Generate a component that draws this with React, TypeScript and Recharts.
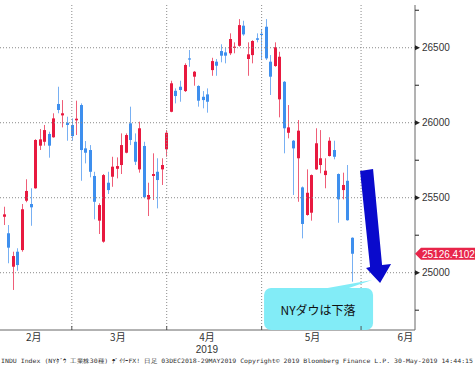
import React from 'react';
import { ComposedChart, Bar, XAxis, YAxis, ReferenceLine, ReferenceDot } from 'recharts';

// Daily OHLC, NY Dow (INDU), Feb 6 2019 - May 29 2019
const opens = [
  25373, 25263, 25040, 25140, 25151, 25480, 25458, 25563, 25847, 25873,
  25925, 25903, 26125, 26049, 26000, 25985, 26016, 26118, 25829, 25818,
  25645, 25347, 25207, 25600, 25640, 25693, 25718, 25800, 25996, 25873,
  25689, 25845, 25489, 25645, 25673, 25689, 25823, 26073, 26213, 26240,
  26211, 26429, 26307, 26245, 26173, 26189, 26351, 26407, 26478, 26469,
  26463, 26502, 26513, 26647, 26425, 26451, 26563, 26593, 26640, 26407,
  26378, 26156, 26273, 25933, 25880, 25763, 25569, 25385, 25400, 25689,
  25718, 25651, 25778, 25818, 25658, 25551, 25613, 25233,
];
const highs = [
  25440, 25318, 25140, 25163, 25458, 25623, 25563, 25890, 25958, 25985,
  25940, 26063, 26240, 26151, 26040, 26029, 26147, 26129, 25878, 25851,
  25673, 25463, 25658, 25673, 25773, 25769, 25929, 25929, 26107, 25929,
  26007, 25873, 25600, 25796, 25763, 25763, 25951, 26280, 26229, 26280,
  26396, 26485, 26345, 26250, 26211, 26229, 26433, 26425, 26523, 26500,
  26596, 26536, 26691, 26680, 26536, 26550, 26596, 26625, 26691, 26451,
  26536, 26473, 26278, 26118, 25885, 26018, 25575, 25689, 25655, 25963,
  25951, 25763, 25903, 25880, 25662, 25667, 25718, 25236,
];
const lows = [
  25318, 25063, 24885, 25013, 25140, 25470, 25313, 25560, 25818, 25847,
  25767, 25900, 26063, 25969, 25880, 25880, 25918, 25613, 25729, 25636,
  25356, 25258, 25200, 25525, 25573, 25629, 25658, 25796, 25851, 25718,
  25667, 25496, 25378, 25485, 25429, 25585, 25773, 26070, 26129, 26140,
  26205, 26373, 26247, 26107, 26096, 26067, 26313, 26313, 26403, 26396,
  26451, 26463, 26507, 26580, 26313, 26396, 26536, 26418, 26418, 26185,
  26373, 26036, 25796, 25896, 25518, 25473, 25229, 25380, 25347, 25685,
  25663, 25563, 25775, 25756, 25333, 25489, 25347, 24940,
];
const closes = [
  25389, 25167, 25111, 25051, 25423, 25545, 25436, 25885, 25889, 25951,
  25847, 26029, 26085, 26063, 25985, 25911, 26027, 25818, 25800, 25673,
  25473, 25451, 25651, 25551, 25707, 25711, 25851, 25918, 25885, 25740,
  25963, 25503, 25518, 25658, 25618, 25718, 25933, 26263, 26178, 26218,
  26385, 26423, 26340, 26147, 26151, 26140, 26411, 26380, 26447, 26447,
  26558, 26507, 26651, 26589, 26456, 26545, 26553, 26587, 26429, 26307,
  26503, 26440, 25963, 25969, 25829, 25947, 25325, 25533, 25651, 25863,
  25763, 25680, 25880, 25773, 25489, 25585, 25350, 25126.4102,
];

const yTicks = [24750, 25000, 25250, 25500, 25750, 26000, 26250, 26500, 26750];
const yGridValues = [25000, 25500, 26000, 26500];
const monthEndIndex = [15, 36, 57, 79];
const monthLabels = ['2月', '3月', '4月', '5月', '6月'];
const monthLabelIndex = [6.6, 25.2, 44.9, 68.25, 88.8];
const yearLabel = '2019';
const yearUnderMonth = 2;
const lastPrice = 25126.4102;
const lastPriceLabel = '25126.4102';
const annotationText = 'NYダウは下落';
const annotationAnchor = { x: 83.2, y: 24931 };
const footerText =
  'INDU Index (NYﾀﾞｳ 工業株30種) ﾃﾞｲﾘｰFX!   日足 03DEC2018-29MAY2019 Copyright© 2019 Bloomberg Finance L.P.  30-May-2019 14:44:15';

const RED = '#E8193F';
const BLUE = '#3E8FEE';

const data = opens.map((o, i) => ({
  i,
  o,
  h: highs[i],
  l: lows[i],
  c: closes[i],
  range: [lows[i], highs[i]],
}));

const Candle = (props: any) => {
  const { x, y, width, height, payload } = props;
  if (!payload) return null;
  const { o, h, l, c } = payload;
  const top = Math.min(y, y + height);
  const H = Math.abs(height);
  const cx = Math.round(x + width / 2);
  const py = (v: number) => top + ((h - v) / (h - l)) * H;
  const color = c >= o ? RED : BLUE;
  const bTop = py(Math.max(o, c));
  const bBot = py(Math.min(o, c));
  return (
    <g>
      <line x1={cx + 0.5} x2={cx + 0.5} y1={top} y2={top + H} stroke={color} strokeOpacity={0.7} strokeWidth={1} />
      <rect x={cx - 1} y={bTop} width={3} height={Math.max(1.2, bBot - bTop)} fill={color} />
    </g>
  );
};

const XTick = (props: any) => {
  const { x, y, payload } = props;
  const v = payload.value;
  const li = monthLabelIndex.indexOf(v);
  if (li < 0) {
    return <line x1={x} x2={x} y1={y - 4} y2={y} stroke="#555" />;
  }
  return (
    <g>
      <text x={x} y={y + 6} textAnchor="middle" dominantBaseline="central" fontSize={10} fill="#333" fontFamily="Noto Sans CJK JP">
        {monthLabels[li]}
      </text>
      {li === yearUnderMonth && (
        <text x={x} y={y + 19.5} textAnchor="middle" dominantBaseline="central" fontSize={10} fill="#333" fontFamily="Liberation Sans">
          {yearLabel}
        </text>
      )}
    </g>
  );
};

const YTick = (props: any) => {
  const { x, y, payload } = props;
  const v = payload.value;
  if (v % 500 === 0) {
    return (
      <g>
        <polygon points={`${x},${y - 2.5} ${x + 5},${y} ${x},${y + 2.5}`} fill="#222" />
        <text x={x + 7} y={y} dominantBaseline="central" fontSize={10} fill="#333" fontFamily="Liberation Sans">
          {v}
        </text>
      </g>
    );
  }
  return <line x1={x} x2={x + 4} y1={y} y2={y} stroke="#222" />;
};

const PriceTag = (props: any) => {
  const { cx, cy } = props;
  return (
    <g>
      <polygon
        points={`${cx},${cy} ${cx + 6},${cy - 6} ${cx + 60},${cy - 6} ${cx + 60},${cy + 6} ${cx + 6},${cy + 6}`}
        fill="#E8254A"
      />
      <text x={cx + 7} y={cy + 0.5} dominantBaseline="central" fontSize={10} fill="#fff" fontFamily="Liberation Sans">
        {lastPriceLabel}
      </text>
    </g>
  );
};

const Arrow = (props: any) => {
  const { cx, cy } = props;
  const pts = [
    [-20, -112],
    [-7, -114],
    [2, -18],
    [11, -19],
    [0, 0],
    [-14, -15],
    [-10, -16],
  ]
    .map(([dx, dy]) => `${cx + dx},${cy + dy}`)
    .join(' ');
  return <polygon points={pts} fill="#0A0ACC" />;
};

const Callout = (props: any) => {
  const { cx, cy } = props;
  return (
    <g>
      <rect x={cx - 116} y={cy + 5} width={109} height={42} rx={7} fill="#82ECF7" />
      <polygon points={`${cx - 58},${cy + 6} ${cx - 8},${cy - 3} ${cx - 34},${cy + 6}`} fill="#82ECF7" />
      <text x={cx - 62} y={cy + 26} textAnchor="middle" dominantBaseline="central" fontSize={12} fill="#111" fontFamily="Noto Sans CJK JP">
        {annotationText}
      </text>
    </g>
  );
};

export default function App() {
  return (
    <div style={{ position: 'absolute', left: 0, top: 0, width: 475, height: 366, background: '#fff' }}>
      <ComposedChart width={475} height={366} data={data} margin={{ top: 5, right: 0, left: 0, bottom: 0 }}>
        <XAxis
          dataKey="i"
          type="number"
          domain={[-0.885, 90.93]}
          allowDataOverflow
          ticks={[...monthEndIndex, ...monthLabelIndex]}
          interval={0}
          tick={<XTick />}
          tickLine={false}
          tickSize={0}
          tickMargin={0}
          height={36}
          axisLine={{ stroke: '#666' }}
        />
        <YAxis
          orientation="right"
          width={60}
          domain={[24618, 26785]}
          allowDataOverflow
          ticks={yTicks}
          interval={0}
          tick={<YTick />}
          tickLine={false}
          tickSize={0}
          tickMargin={0}
          axisLine={{ stroke: '#666' }}
        />
        {yGridValues.map((v) => (
          <ReferenceLine key={'h' + v} y={v} stroke="#8a8a8a" strokeDasharray="1 2" />
        ))}
        {monthEndIndex.map((v) => (
          <ReferenceLine key={'v' + v} x={v} stroke="#8a8a8a" strokeDasharray="1 2" />
        ))}
        <Bar dataKey="range" barSize={4} shape={<Candle />} isAnimationActive={false} />
        <ReferenceDot x={90.93} y={lastPrice} ifOverflow="visible" shape={<PriceTag />} />
        <ReferenceDot x={annotationAnchor.x} y={annotationAnchor.y} ifOverflow="visible" shape={<Callout />} />
        <ReferenceDot x={annotationAnchor.x} y={annotationAnchor.y} ifOverflow="visible" shape={<Arrow />} />
      </ComposedChart>
      <svg width={475} height={14} style={{ position: 'absolute', left: 0, top: 352 }}>
        <text x={1} y={8} dominantBaseline="central" fontSize={6} fill="#333" fontFamily="DejaVu Sans Mono" textLength={472} lengthAdjust="spacingAndGlyphs">
          {footerText}
        </text>
      </svg>
    </div>
  );
}
